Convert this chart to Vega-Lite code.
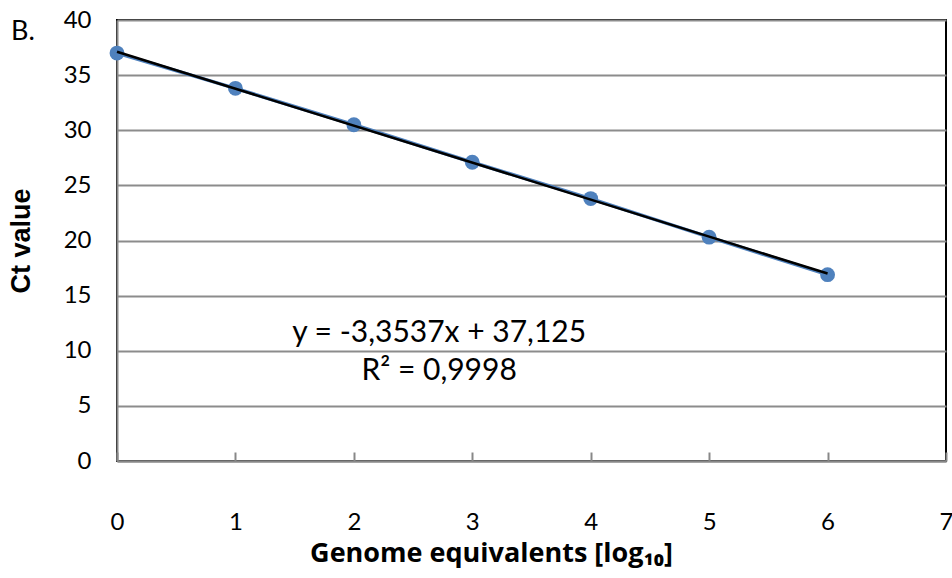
{
  "$schema": "https://vega.github.io/schema/vega-lite/v6.json",
  "width": 829,
  "height": 441,
  "autosize": {"type": "none"},
  "padding": {"left": 117, "top": 20, "right": 6, "bottom": 117},
  "background": "white",
  "config": {
    "font": "Lato",
    "view": {"stroke": "black", "strokeWidth": 2},
    "axis": {"labelFont": "Lato", "titleFont": "Lato", "labelColor": "black", "titleColor": "black"}
  },
  "title": {
    "text": "B.",
    "anchor": "start",
    "frame": "group",
    "orient": "top",
    "dx": -106,
    "offset": -38,
    "fontSize": 27,
    "fontWeight": "normal",
    "font": "Lato",
    "color": "black"
  },
  "datasets": {
    "pts": [
      {"x": 0, "ct": 37.0},
      {"x": 1, "ct": 33.8},
      {"x": 2, "ct": 30.5},
      {"x": 3, "ct": 27.1},
      {"x": 4, "ct": 23.8},
      {"x": 5, "ct": 20.3},
      {"x": 6, "ct": 16.9}
    ],
    "trend": [
      {"x": 0, "ct": 37.125},
      {"x": 6, "ct": 17.003}
    ],
    "ann": [
      {"x": 2.72, "ct": 11.6, "label": "y = -3,3537x + 37,125"},
      {"x": 2.72, "ct": 8.2, "label": "R² = 0,9998"}
    ]
  },
  "layer": [
    {
      "data": {"name": "pts"},
      "mark": {"type": "line", "color": "#4F81BD", "strokeWidth": 3.5},
      "encoding": {
        "x": {
          "field": "x", "type": "quantitative",
          "scale": {"domain": [0, 7], "nice": false},
          "axis": {
            "values": [0, 1, 2, 3, 4, 5, 6, 7],
            "format": "d",
            "labelFlush": false,
            "grid": false,
            "domainColor": "#888888", "domainWidth": 2,
            "tickColor": "#888888", "tickWidth": 2, "tickSize": -9,
            "labelFontSize": 24, "labelPadding": 58,
            "title": "Genome equivalents [log₁₀]",
            "titleFont": "Open Sans",
            "titleFontSize": 27, "titleFontWeight": "bold",
            "titlePadding": 6, "titleX": 374
          }
        },
        "y": {
          "field": "ct", "type": "quantitative",
          "scale": {"domain": [0, 40], "nice": false},
          "axis": {
            "values": [0, 5, 10, 15, 20, 25, 30, 35, 40],
            "labelFlush": false,
            "grid": true, "gridColor": "#8c8c8c", "gridWidth": 2,
            "domainColor": "#888888", "domainWidth": 2,
            "ticks": false,
            "labelFontSize": 24, "labelPadding": 26,
            "title": "Ct value",
            "titleFont": "Liberation Sans",
            "titleFontSize": 27, "titleFontWeight": "bold",
            "titlePadding": 28
          }
        }
      }
    },
    {
      "data": {"name": "pts"},
      "mark": {"type": "point", "filled": true, "color": "#4F81BD", "opacity": 1, "size": 220},
      "encoding": {
        "x": {"field": "x", "type": "quantitative"},
        "y": {"field": "ct", "type": "quantitative"}
      }
    },
    {
      "data": {"name": "trend"},
      "mark": {"type": "line", "color": "black", "strokeWidth": 2.5},
      "encoding": {
        "x": {"field": "x", "type": "quantitative"},
        "y": {"field": "ct", "type": "quantitative"}
      }
    },
    {
      "data": {"name": "ann"},
      "mark": {"type": "text", "fontSize": 30, "font": "Lato", "color": "black", "align": "center", "baseline": "middle"},
      "encoding": {
        "x": {"field": "x", "type": "quantitative"},
        "y": {"field": "ct", "type": "quantitative"},
        "text": {"field": "label"}
      }
    }
  ]
}
